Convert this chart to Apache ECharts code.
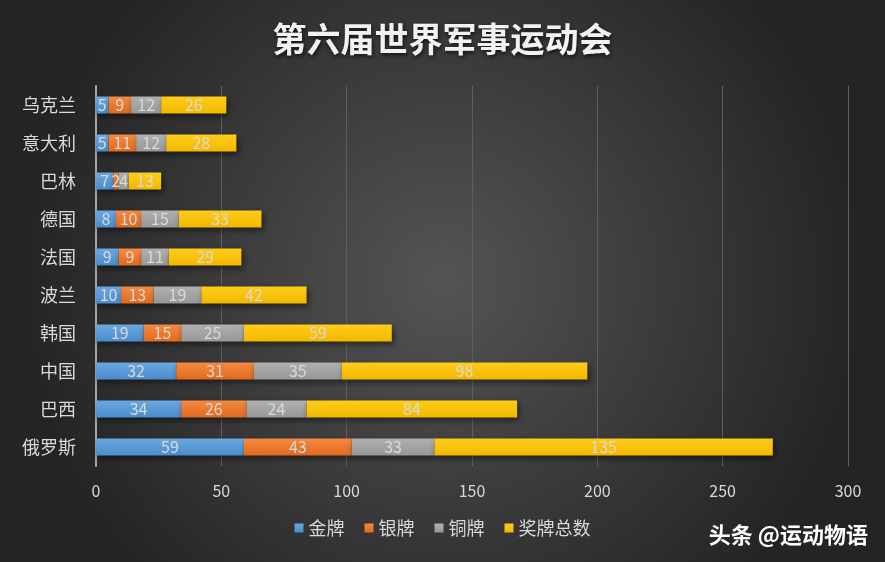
<!DOCTYPE html>
<html><head><meta charset="utf-8">
<script src="https://cdn.jsdelivr.net/npm/echarts@6/dist/echarts.min.js"></script>
<style>html,body{margin:0;padding:0;}#c{width:885px;height:562px;}</style>
</head><body><div id="c"></div>
<script>
var categories = ['俄罗斯','巴西','中国','韩国','波兰','法国','德国','巴林','意大利','乌克兰'];
var gold = [59,34,32,19,10,9,8,7,5,5];
var silver = [43,26,31,15,13,9,10,2,11,9];
var bronze = [33,24,35,25,19,11,15,4,12,12];
var total = [135,84,98,59,42,29,33,13,28,26];
var seriesNames = ['金牌','银牌','铜牌','奖牌总数'];
var xTicks = [0,50,100,150,200,250,300];

var colors = [['#6aa8e0','#4a8ccc'],['#f58a42','#e06a1e'],['#b0b0b0','#979797'],['#ffcc1a','#f2b800']];
function grad(c){return new echarts.graphic.LinearGradient(0,0,0,1,[{offset:0,color:c[0]},{offset:1,color:c[1]}]);}
var font = '"Noto Sans CJK SC", "Microsoft YaHei", sans-serif';
var datas = [gold,silver,bronze,total];
var series = datas.map(function(d,i){
  return {
    name: seriesNames[i], type:'bar', stack:'all', data:d, barWidth:17,
    itemStyle:{color:grad(colors[i]), shadowColor:'rgba(0,0,0,0.5)', shadowBlur:6, shadowOffsetX:2, shadowOffsetY:3},
    label:{show:true, position:'inside', color:'#d9d9d9', fontSize:16, fontFamily:font}
  };
});
var chart = echarts.init(document.getElementById('c'));
chart.setOption({
  backgroundColor: new echarts.graphic.RadialGradient(0.5,0.5,0.75,[{offset:0,color:'#545454'},{offset:1,color:'#242424'}]),
  color: colors.map(function(c){return c[0];}),
  title:{text:'第六届世界军事运动会', left:'center', top:17,
    textStyle:{color:'#f2f2f2', fontSize:34, fontWeight:'bold', fontFamily:font, textShadowColor:'rgba(0,0,0,0.7)', textShadowBlur:4, textShadowOffsetX:1, textShadowOffsetY:2}},
  legend:{bottom:20, left:'center', itemWidth:9, itemHeight:9, itemGap:20, icon:'rect',
    textStyle:{color:'#d9d9d9', fontSize:18, fontFamily:font}},
  grid:{left:96, right:37, top:86, bottom:96, containLabel:false},
  xAxis:{type:'value', min:0, max:300, interval:50,
    axisLine:{show:false}, axisTick:{show:false},
    axisLabel:{color:'#d9d9d9', fontSize:16, margin:17, fontFamily:font, formatter:function(v){return xTicks.indexOf(v)>=0?String(v):'';}},
    splitLine:{lineStyle:{color:'#5e5e5e', width:1}}},
  yAxis:{type:'category', data:categories,
    axisLine:{lineStyle:{color:'#a6a6a6', width:2}}, axisTick:{show:false},
    axisLabel:{color:'#d9d9d9', fontSize:18, margin:20, fontFamily:font}},
  graphic:[{type:'text', right:17, bottom:16, style:{text:'头条 @运动物语', fill:'#ffffff', font:'bold 22px '+font, shadowColor:'rgba(0,0,0,0.9)', shadowBlur:3, shadowOffsetX:2, shadowOffsetY:2}}],
  series: series
});
</script></body></html>
